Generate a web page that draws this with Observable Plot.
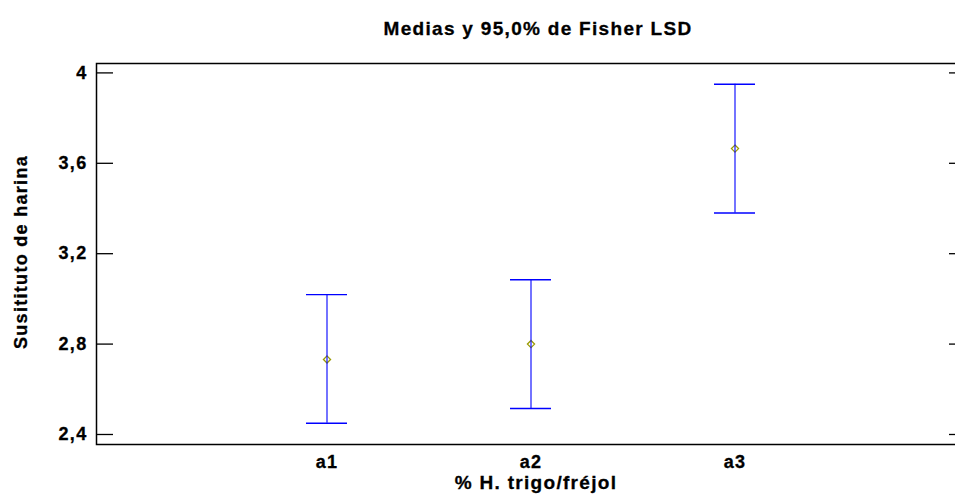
<!DOCTYPE html>
<html>
<head>
<meta charset="utf-8">
<script src="https://cdn.jsdelivr.net/npm/d3@7"></script>
<script src="https://cdn.jsdelivr.net/npm/@observablehq/plot@0.6"></script>
<style>
  html, body { margin: 0; padding: 0; background: #fff; overflow: hidden; }
  #chart svg text { letter-spacing: 1.3px; stroke: #000; stroke-width: 0.3px; }
</style>
</head>
<body>
<div id="chart"></div>
<script>
const categories = ["a1", "a2", "a3"];
const means = [2.732, 2.800, 3.665];
const lower = [2.450, 2.515, 3.380];
const upper = [3.019, 3.085, 3.950];
const yTicks = [2.4, 2.8, 3.2, 3.6, 4.0];
const titleText = "Medias y 95,0% de Fisher LSD";
const xLabel = "% H. trigo/fréjol";
const yLabel = "Susitituto de harina";

const data = categories.map((c, i) => ({cat: c, mean: means[i], lo: lower[i], hi: upper[i]}));
const fmt = d => d3.format(".1f")(d).replace(".", ",").replace(/,0$/, "");
const font = "'Liberation Sans', Arial, sans-serif";

const chart = Plot.plot({
  width: 955,
  height: 503,
  marginLeft: 96,
  marginRight: -10,
  marginTop: 63,
  marginBottom: 59,
  style: {fontFamily: font, fontWeight: "bold", fontSize: "18px", color: "#000", background: "#fff", overflow: "hidden"},
  x: {type: "band", domain: categories, range: [96, 965], paddingInner: 0.8, paddingOuter: 1.0216},
  y: {domain: [2.3557, 4.0416]},
  marks: [
    Plot.frame({stroke: "#000", strokeWidth: 1.5}),
    // inward ticks, left and right
    Plot.axisY(yTicks, {anchor: "left", tickSize: 17, dx: 17, tickFormat: () => "", label: null, stroke: "#000", strokeWidth: 1.3}),
    Plot.axisY(yTicks, {anchor: "right", tickSize: 17, dx: -17, tickFormat: () => "", label: null, stroke: "#000", strokeWidth: 1.3}),
    // y tick labels
    Plot.axisY(yTicks, {anchor: "left", tickSize: 0, tickPadding: 9, tickFormat: fmt, label: null, fontSize: 18, fontWeight: "bold", fill: "#000"}),
    // x tick labels
    Plot.axisX({anchor: "bottom", tickSize: 0, tickPadding: 10.7, label: null, fontSize: 18, fontWeight: "bold", fill: "#000"}),
    // means
    Plot.dot(data, {x: "cat", y: "mean", symbol: "diamond2", r: 3.2, stroke: "#9a9a00", fill: "none", strokeWidth: 1.3}),
    // interval lines
    Plot.ruleX(data, {x: "cat", y1: "lo", y2: "hi", stroke: "#0000ff", strokeWidth: 1.1}),
    Plot.tickY(data, {x: "cat", y: "lo", stroke: "#0000ff", strokeWidth: 1.4}),
    Plot.tickY(data, {x: "cat", y: "hi", stroke: "#0000ff", strokeWidth: 1.4}),
    // title & axis labels
    Plot.text([titleText], {frameAnchor: "top", textAnchor: "middle", lineAnchor: "middle", dx: 7, dy: -34.1, fontSize: 19, fontWeight: "bold", fill: "#000"}),
    Plot.text([xLabel], {frameAnchor: "bottom", textAnchor: "middle", lineAnchor: "middle", dx: 5, dy: 38.9, fontSize: 19, fontWeight: "bold", fill: "#000"}),
    Plot.text([yLabel], {frameAnchor: "left", textAnchor: "middle", lineAnchor: "middle", rotate: -90, dx: -75, dy: -2, fontSize: 18, fontWeight: "bold", fill: "#000"})
  ]
});
document.getElementById("chart").appendChild(chart);
</script>
</body>
</html>
